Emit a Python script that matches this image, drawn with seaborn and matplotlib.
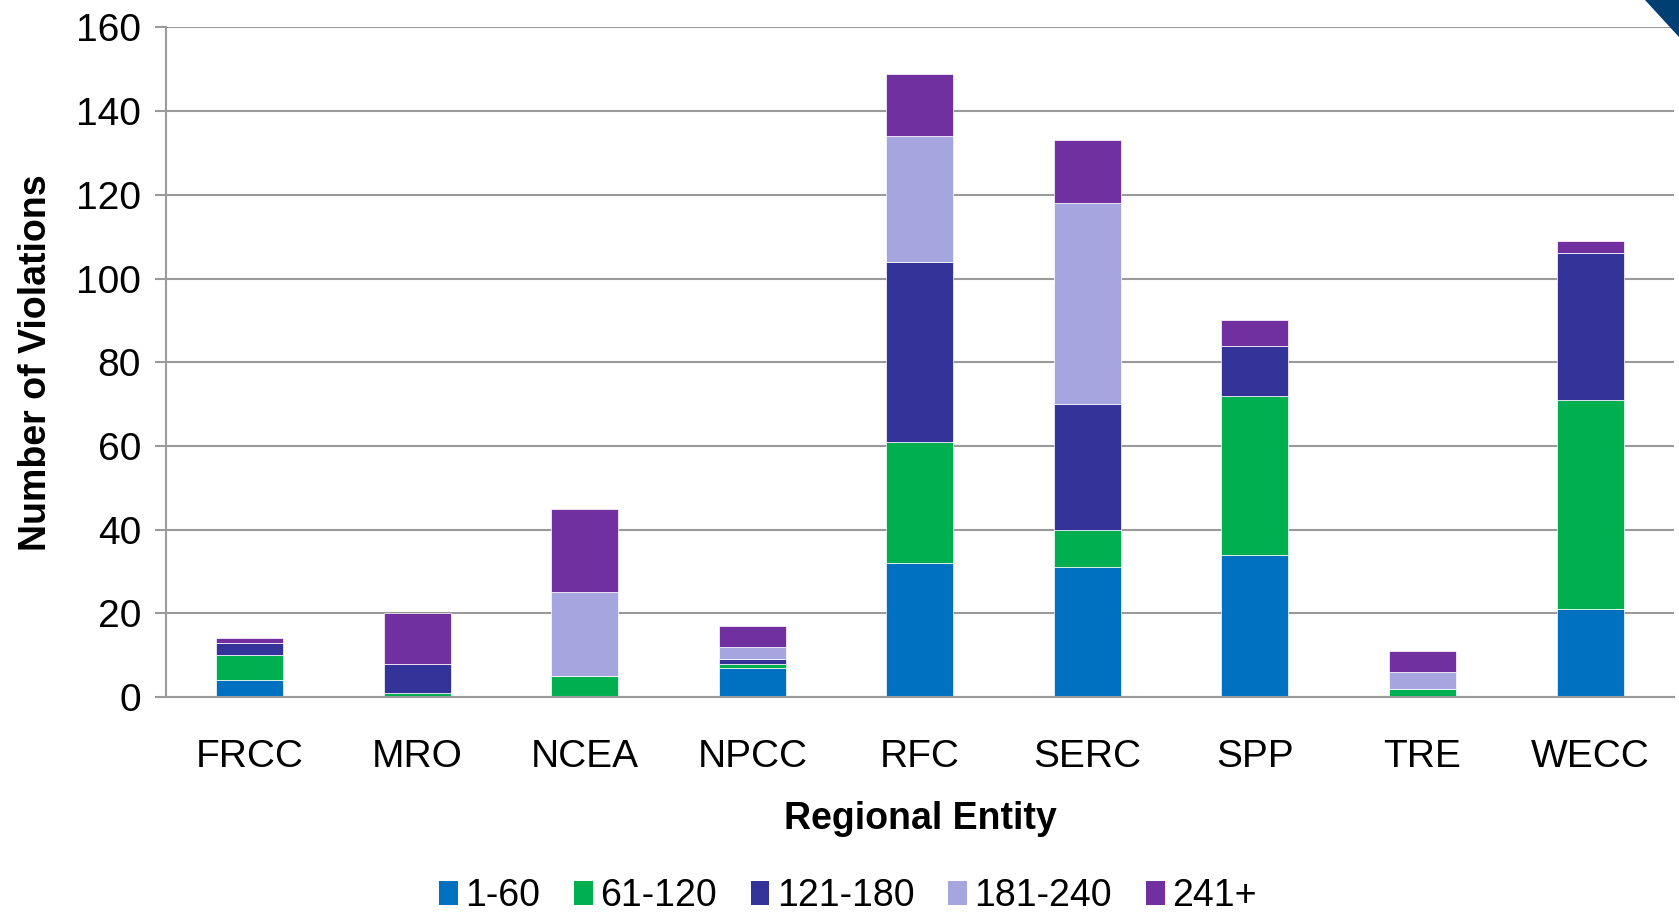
import numpy as np
import pandas as pd
import matplotlib
matplotlib.use("Agg")
import matplotlib.pyplot as plt
import seaborn as sns
from matplotlib.patches import Polygon, Patch

regions = ["FRCC", "MRO", "NCEA", "NPCC", "RFC", "SERC", "SPP", "TRE", "WECC"]
bins = ["1-60", "61-120", "121-180", "181-240", "241+"]
d_1_60 = [4, 0, 0, 7, 32, 31, 34, 0, 21]
d_61_120 = [6, 1, 5, 1, 29, 9, 38, 2, 50]
d_121_180 = [3, 7, 0, 1, 43, 30, 12, 0, 35]
d_181_240 = [0, 0, 20, 3, 30, 48, 0, 4, 0]
d_241 = [1, 12, 20, 5, 15, 15, 6, 5, 3]
colors = ["#0070C0", "#00B050", "#333399", "#A5A5E0", "#7030A0"]

series = [d_1_60, d_61_120, d_121_180, d_181_240, d_241]

sns.set_theme(style="white")
plt.rcParams["font.family"] = ["Liberation Sans", "DejaVu Sans"]
plt.rcParams["text.color"] = "black"
plt.rcParams["axes.labelcolor"] = "black"

fig = plt.figure(figsize=(16.79, 9.16), dpi=100)
ax = fig.add_axes([0.0989, 0.239, 0.898, 0.731])

bottom = np.zeros(len(regions))
for name, vals, col in zip(bins, series, colors):
    df = pd.DataFrame({"region": regions, "count": vals})
    sns.barplot(data=df, x="region", y="count", order=regions, color=col,
                width=0.4, bottom=bottom, errorbar=None, ax=ax,
                saturation=1, edgecolor="white", linewidth=0.5)
    bottom = bottom + np.array(vals)

ax.set_xlim(-0.5, 8.5)
ax.set_ylim(0, 160)
ax.set_yticks(range(0, 161, 20))
ax.yaxis.grid(True, color="#9a9a9a", linewidth=1.5)
ax.set_axisbelow(True)

gc = "#9a9a9a"
for s in ["top", "right"]:
    ax.spines[s].set_visible(False)
for s in ["left", "bottom"]:
    ax.spines[s].set_color(gc)
    ax.spines[s].set_linewidth(1.5)

ax.set_xticks(np.arange(-0.5, 9, 1), minor=True)
ax.tick_params(axis="x", which="major", length=0, pad=30, labelsize=28, colors="black")
ax.tick_params(axis="x", which="minor", length=9, width=1.5, color=gc, direction="out")
ax.tick_params(axis="y", length=8, width=1.5, color=gc, direction="out", pad=10,
               labelsize=28, colors="black", left=True)

ax.set_xlabel("Regional Entity", fontsize=27, fontweight="bold", labelpad=19)
ax.set_ylabel("Number of Violations", fontsize=27, fontweight="bold", labelpad=16)

handles = [Patch(facecolor=c, edgecolor="none") for c in colors]
fig.legend(handles, bins, loc="center", bbox_to_anchor=(0.505, 0.022), ncol=5,
           frameon=False, fontsize=27, handlelength=0.5, handleheight=0.6,
           handletextpad=0.2, columnspacing=0.9)

tri = Polygon([[0.980, 1.0], [1.0, 1.0], [1.0, 0.96]], closed=True,
              transform=fig.transFigure, facecolor="#003F72", edgecolor="none")
fig.patches.append(tri)

fig.savefig("out.png", dpi=100)
